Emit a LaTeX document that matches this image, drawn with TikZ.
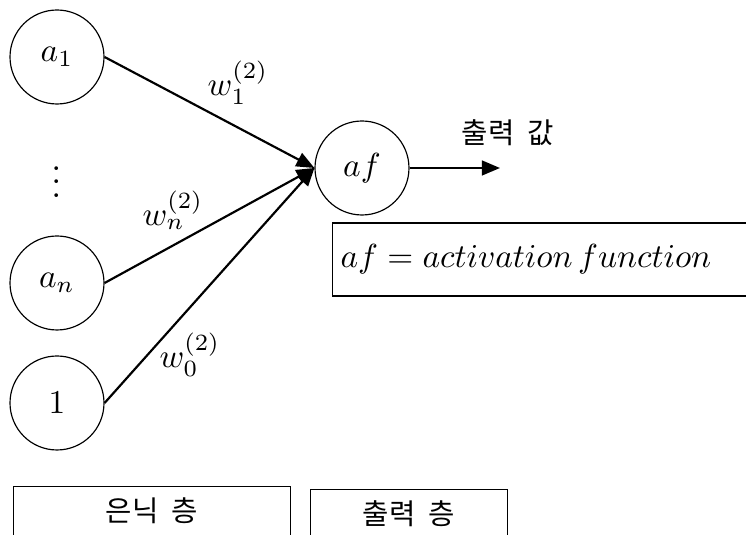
\documentclass[tikz,border=0pt]{standalone}
\usepackage{fontspec}
\usetikzlibrary{arrows.meta}
\newfontfamily\kr{Noto Sans CJK KR}
\newcommand{\krsp}{\hspace{0.45em}}
\begin{document}
\begin{tikzpicture}[x=0.3pt,y=-0.3pt,
  mfont/.style={font=\fontsize{10.3}{12}\selectfont},
  neuron/.style={draw,circle,line width=0.35pt,minimum size=28.2pt,inner sep=0pt,mfont},
  conn/.style={line width=0.65pt,-{Triangle[length=5.4pt,width=4.4pt]}},
  wlabel/.style={mfont},
  krtext/.style={font=\kr\fontsize{8.6}{10}\selectfont},
  layerbox/.style={draw,line width=0.35pt,anchor=north west,minimum height=20pt,inner sep=0pt}]
\useasboundingbox (0,0) rectangle (746,535);
\clip (0,0) rectangle (746,535);
\node[neuron] (a1) at (57,57) {$a_1$};
\node[neuron] (an) at (57,283) {$a_n$};
\node[neuron] (one) at (57,403) {$1$};
\node[neuron] (af) at (362,168) {$af$};
\node[font=\fontsize{11.5}{13}\selectfont,inner sep=0pt] (dots) at (57,172) {$\vdots$};
\coordinate (out) at (500,168);
\draw[conn] (a1.east) -- (af.west);
\draw[conn] (an.east) -- (af.west);
\draw[conn] (one.east) -- (af.west);
\draw[conn] (af.east) -- (out);
\node[wlabel] (w1) at (238,83) {$w_1^{(2)}$};
\node[wlabel] (wn) at (173,210) {$w_n^{(2)}$};
\node[wlabel] (w0) at (190,355) {$w_0^{(2)}$};
\node[krtext] (outlbl) at (508,133) {출력\krsp 값};
\node[draw,line width=0.35pt,anchor=west,minimum height=21.9pt,inner xsep=2.4pt,text width=135pt,align=left,mfont] (afbox) at (332,259.5) {$af = activation\,function$};
\node[layerbox,minimum width=83.1pt] (hidden) at (13,486) {};
\node[krtext] (hiddenlbl) at (152,511) {은닉\krsp 층};
\node[layerbox,minimum width=59.1pt] (output) at (310,489) {};
\node[krtext] (outputlbl) at (409,514) {출력\krsp 층};
\end{tikzpicture}
\end{document}
